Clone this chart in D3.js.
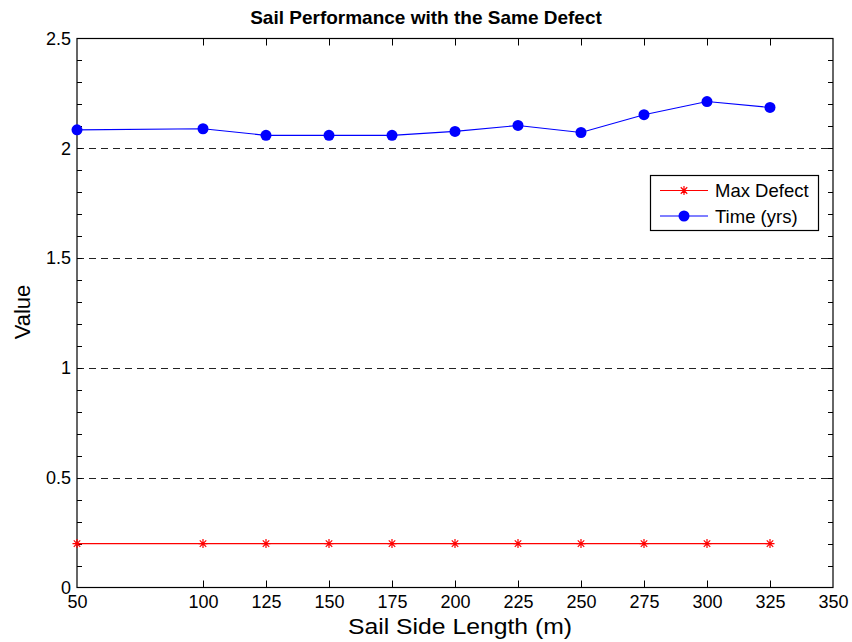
<!DOCTYPE html>
<html>
<head>
<meta charset="utf-8">
<script src="https://cdn.jsdelivr.net/npm/d3@7"></script>
<style>
  html, body { margin: 0; padding: 0; background: #fff; }
  svg { display: block; font-family: "Liberation Sans", Arial, Helvetica, sans-serif; }
</style>
</head>
<body>
<svg id="chart" width="852" height="642"></svg>
<script>
// Sail side lengths (m) sampled in the study
const sideLengths = [50, 100, 125, 150, 175, 200, 225, 250, 275, 300, 325];
// Maximum defect for each sail size (held constant)
const maxDefect = [0.2, 0.2, 0.2, 0.2, 0.2, 0.2, 0.2, 0.2, 0.2, 0.2, 0.2];
// Time to reach that defect, in years
const timeYears = [2.084, 2.089, 2.059, 2.059, 2.059, 2.077, 2.104, 2.072, 2.153, 2.213, 2.186];
// Axis tick values
const xTicks = [50, 100, 125, 150, 175, 200, 225, 250, 275, 300, 325, 350];
const yMajorTicks = [0, 0.5, 1, 1.5, 2, 2.5];
const yMinorTicks = d3.range(0, 25).map(i => i / 10);
const yGridTicks = [0.5, 1, 1.5, 2];
const seriesNames = ["Max Defect", "Time (yrs)"];

(function draw() {
  const svg = d3.select("#chart");
  const plotL = 77, plotR = 833, plotT = 38.5, plotB = 587.5;

  const x = d3.scaleLinear().domain([50, 350]).range([plotL, plotR]);
  const y = d3.scaleLinear().domain([0, 2.5]).range([plotB, plotT]);

  // Dashed horizontal grid at the major y ticks
  svg.append("g").selectAll("line").data(yGridTicks).join("line")
    .attr("x1", plotL).attr("x2", plotR)
    .attr("y1", d => Math.round(y(d)) + 0.5).attr("y2", d => Math.round(y(d)) + 0.5)
    .attr("stroke", "#222").attr("stroke-width", 1)
    .attr("stroke-dasharray", "7,5");

  // Bottom axis with labels
  const xAxis = svg.append("g")
    .attr("transform", `translate(0,${plotB})`)
    .call(d3.axisBottom(x).tickValues(xTicks).tickFormat(d3.format("d")).tickSize(0).tickPadding(8));
  xAxis.select(".domain").remove();
  xAxis.selectAll("text").attr("font-size", 18).attr("fill", "#000")
    .attr("font-family", "Liberation Sans, Arial, sans-serif");

  // Left axis labels
  const yAxis = svg.append("g")
    .attr("transform", `translate(${plotL},0)`)
    .call(d3.axisLeft(y).tickValues(yMajorTicks).tickFormat(d => String(d)).tickSize(0).tickPadding(6));
  yAxis.select(".domain").remove();
  yAxis.selectAll("text").attr("font-size", 18).attr("fill", "#000")
    .attr("font-family", "Liberation Sans, Arial, sans-serif");

  // Inward tick marks on all four sides
  const ticks = svg.append("g").attr("stroke", "#000").attr("stroke-width", 1);
  const innerX = xTicks.filter(d => d > 50 && d < 350);
  ticks.selectAll(".tb").data(innerX).join("line")
    .attr("x1", d => Math.round(x(d)) + 0.5).attr("x2", d => Math.round(x(d)) + 0.5)
    .attr("y1", plotB).attr("y2", plotB - 7);
  ticks.selectAll(".tt").data(innerX).join("line")
    .attr("x1", d => Math.round(x(d)) + 0.5).attr("x2", d => Math.round(x(d)) + 0.5)
    .attr("y1", plotT).attr("y2", plotT + 7);
  const innerY = yMinorTicks.filter(d => d > 0);
  ticks.selectAll(".tl").data(innerY).join("line")
    .attr("y1", d => Math.round(y(d)) + 0.5).attr("y2", d => Math.round(y(d)) + 0.5)
    .attr("x1", plotL).attr("x2", plotL + 5);
  ticks.selectAll(".tr").data(innerY).join("line")
    .attr("y1", d => Math.round(y(d)) + 0.5).attr("y2", d => Math.round(y(d)) + 0.5)
    .attr("x1", plotR).attr("x2", plotR - 5);

  // Axes box
  svg.append("rect")
    .attr("x", plotL).attr("y", plotT)
    .attr("width", plotR - plotL).attr("height", plotB - plotT)
    .attr("fill", "none").attr("stroke", "#000").attr("stroke-width", 1.2);

  const line = d3.line().x(d => x(d[0])).y(d => y(d[1]));

  // Asterisk marker path
  function asterisk(cx, cy, r) {
    const d = r * 0.72;
    return `M${cx - r},${cy}L${cx + r},${cy}M${cx},${cy - r}L${cx},${cy + r}` +
           `M${cx - d},${cy - d}L${cx + d},${cy + d}M${cx - d},${cy + d}L${cx + d},${cy - d}`;
  }

  // Max Defect series (red, asterisk markers)
  const defectData = sideLengths.map((s, i) => [s, maxDefect[i]]);
  svg.append("path").datum(defectData)
    .attr("d", line).attr("fill", "none")
    .attr("stroke", "#ff0000").attr("stroke-width", 1.3);
  svg.append("g").selectAll("path").data(defectData).join("path")
    .attr("d", d => asterisk(x(d[0]), y(d[1]), 4.5))
    .attr("stroke", "#ff0000").attr("stroke-width", 1.2).attr("fill", "none");

  // Time series (blue, filled circle markers)
  const timeData = sideLengths.map((s, i) => [s, timeYears[i]]);
  svg.append("path").datum(timeData)
    .attr("d", line).attr("fill", "none")
    .attr("stroke", "#0000ff").attr("stroke-width", 1.1);
  svg.append("g").selectAll("circle").data(timeData).join("circle")
    .attr("cx", d => x(d[0])).attr("cy", d => y(d[1])).attr("r", 5.5)
    .attr("fill", "#0000ff");

  // Legend
  const lg = svg.append("g");
  lg.append("rect").attr("x", 650.5).attr("y", 175.5).attr("width", 168).attr("height", 55)
    .attr("fill", "#fff").attr("stroke", "#000").attr("stroke-width", 1.2);
  const rows = [
    { name: seriesNames[0], color: "#ff0000", marker: "star", cy: 190.5 },
    { name: seriesNames[1], color: "#0000ff", marker: "circle", cy: 216 }
  ];
  rows.forEach(r => {
    lg.append("line").attr("x1", 660).attr("x2", 708).attr("y1", r.cy).attr("y2", r.cy)
      .attr("stroke", r.color).attr("stroke-width", 1.1);
    if (r.marker === "star") {
      lg.append("path").attr("d", asterisk(684, r.cy, 4.5))
        .attr("stroke", r.color).attr("stroke-width", 1.2).attr("fill", "none");
    } else {
      lg.append("circle").attr("cx", 684).attr("cy", r.cy).attr("r", 5.5).attr("fill", r.color);
    }
    lg.append("text").attr("x", 715).attr("y", r.cy + 6.5)
      .attr("font-size", 18.5).attr("fill", "#000").text(r.name);
  });

  // Title and axis labels
  svg.append("text").attr("x", 426).attr("y", 24).attr("text-anchor", "middle")
    .attr("font-size", 19).attr("font-weight", "bold").attr("fill", "#000")
    .text("Sail Performance with the Same Defect");
  svg.append("text").attr("x", 460).attr("y", 634).attr("text-anchor", "middle")
    .attr("font-size", 22).attr("fill", "#000")
    .attr("textLength", 224).attr("lengthAdjust", "spacingAndGlyphs")
    .text("Sail Side Length (m)");
  svg.append("text").attr("transform", "translate(30,312) rotate(-90)")
    .attr("text-anchor", "middle").attr("font-size", 22).attr("fill", "#000")
    .text("Value");
})();
</script>
</body>
</html>
